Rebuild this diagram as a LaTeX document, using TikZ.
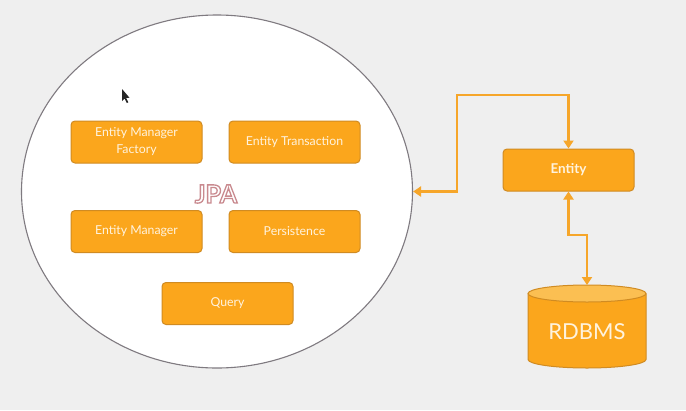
\documentclass[tikz,border=0pt]{standalone}
\usepackage{fontspec}
\setmainfont{Lato}
\usetikzlibrary{shapes.geometric,arrows.meta}
\definecolor{bg}{HTML}{EFEFEF}
\definecolor{boxfill}{HTML}{FBA61C}
\definecolor{boxdraw}{HTML}{D08B22}
\definecolor{boxtext}{HTML}{FFF3DE}
\definecolor{conn}{HTML}{F6A62A}
\definecolor{dbtop}{HTML}{FBBF52}
\definecolor{ringgray}{HTML}{7F7A80}
\tikzset{
  box/.style={draw=boxdraw, line width=1pt, fill=boxfill, rounded corners=4pt,
    minimum width=131pt, minimum height=42pt, text=boxtext, font=\fontsize{12.3}{17}\selectfont,
    align=center, inner sep=0pt},
  conn/.style={draw=conn, line width=2.6pt, {Triangle[width=10pt,length=8pt]}-{Triangle[width=10pt,length=8pt]}},
  dbshape/.style={draw=boxdraw, line width=1pt, fill=boxfill}
}
\newcommand{\outlinetext}[1]{\special{pdf:literal direct 2 Tr 1.3 w 0.79 0.54 0.56 RG}#1\special{pdf:literal direct 0 Tr}}
\begin{document}
\begin{tikzpicture}[x=1pt,y=-1pt]
\fill[bg] (0,0) rectangle (686,410);
\useasboundingbox (0,0) rectangle (686,410);
% JPA ellipse
\node[ellipse, draw=ringgray, line width=1.1pt, fill=white, minimum width=391pt, minimum height=353pt, inner sep=0pt] (jpa) at (217,191.5) {};
% boxes
\node[box] (emf) at (136.5,142) {Entity Manager\\Factory};
\node[box] (et) at (294.5,142) {Entity Transaction};
\node[box] (em) at (136.5,231.5) {Entity Manager};
\node[box] (pers) at (294.5,231.5) {Persistence};
\node[box] (query) at (227.5,303.5) {Query};
% JPA outlined label
\node[text=white, font=\bfseries\fontsize{25}{25}\selectfont, inner sep=0pt] (jpalabel) at (216,194) {\outlinetext{JPA}};
% mouse cursor
\fill[black!85] (122,89) -- (122,101) -- (124.5,98.5) -- (126.8,103) -- (128.3,102.3) -- (126.1,97.9) -- (129.5,97.7) -- cycle;
% Entity
\node[box, font=\bfseries\fontsize{13.5}{15}\selectfont] (ent) at (568.5,170) {Entity};
% Database
\node[minimum width=118pt, minimum height=83pt, inner sep=0pt] (db) at (587,326.5) {};
\draw[dbshape] (528,293.5) -- (528,359.5) arc[start angle=180, end angle=0, x radius=59, y radius=8.5] -- (646,293.5);
\draw[dbshape, fill=dbtop] (587,293.5) ellipse[x radius=59, y radius=8.5];
\node[text=boxtext, font=\fontsize{22}{22}\selectfont] at (587,332) {RDBMS};
% connectors
\coordinate (turn) at (457,95);
\draw[conn] (ent.north) -- (ent.north |- turn) -- (turn) |- (jpa.east);
\coordinate (jog) at (587,235);
\draw[conn] (ent.south) -- (ent.south |- jog) -- (jog) -- (587,285);
\end{tikzpicture}
\end{document}
